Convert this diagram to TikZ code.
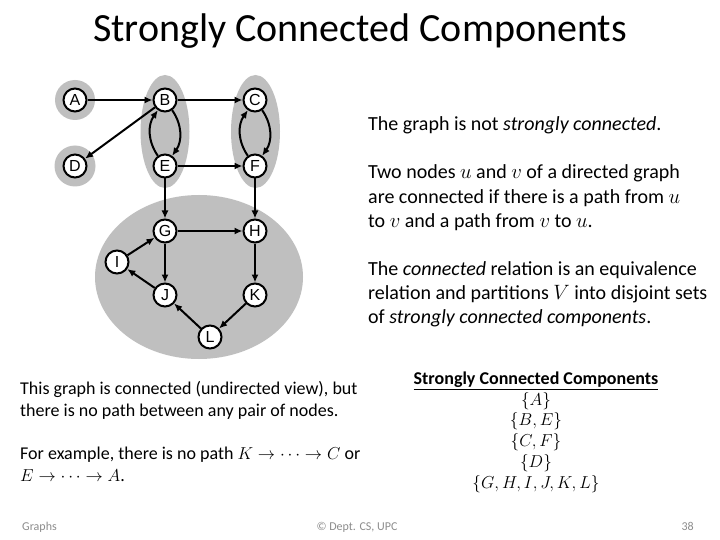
\documentclass[tikz,border=0pt]{standalone}
\usepackage{fontspec}
\setmainfont{Carlito}
\newfontfamily\vertexfont{Liberation Sans}
\usepackage{tikz}
\usetikzlibrary{arrows.meta,shapes.geometric}
\definecolor{sccGray}{HTML}{BFBFBF}
\definecolor{footGray}{HTML}{8C8C8C}

\begin{document}
\begin{tikzpicture}[x=1pt,y=-1pt,
  vtx/.style={circle,draw,line width=2pt,fill=white,inner sep=0pt,
              minimum size=23pt,font=\vertexfont\fontsize{16}{16}\selectfont},
  blob/.style={ellipse,fill=sccGray,inner sep=0pt},
  edge/.style={line width=2pt,-{Latex[length=8pt,width=7pt]}},
  body/.style={anchor=base west,align=left,inner sep=0pt,
               font=\fontsize{20}{24}\selectfont},
  side/.style={anchor=base west,align=left,inner sep=0pt,
               font=\fontsize{18}{22}\selectfont},
  foot/.style={anchor=base,inner sep=0pt,text=footGray,
               font=\fontsize{12}{12}\selectfont}]
  \useasboundingbox[fill=white] (0,0) rectangle (720,540);
  \node[anchor=base,inner sep=0pt,font=\fontsize{40}{48}\selectfont] (title)
    at (360,42) {Strongly Connected Components};

  \node[blob,minimum size=40pt] (sccA) at (75,100) {};
  \node[blob,minimum size=41pt] (sccD) at (75,166) {};
  \node[blob,minimum width=49pt,minimum height=113pt] (sccBE) at (165,131.5) {};
  \node[blob,minimum width=49pt,minimum height=113pt] (sccCF) at (255.5,131.5) {};
  \node[blob,minimum width=208pt,minimum height=164pt] (sccG) at (199,277) {};

  \node[vtx] (A) at (75,100) {A};
  \node[vtx] (B) at (165,100) {B};
  \node[vtx] (C) at (255,100) {C};
  \node[vtx] (D) at (75,166) {D};
  \node[vtx] (E) at (165,166) {E};
  \node[vtx] (F) at (255,166) {F};
  \node[vtx] (G) at (165,231) {G};
  \node[vtx] (H) at (255,231) {H};
  \node[vtx] (I) at (117,262) {I};
  \node[vtx] (J) at (165,295) {J};
  \node[vtx] (K) at (255,295) {K};
  \node[vtx] (L) at (210,337) {L};

  \foreach \s/\t in {A/B,B/C,B/D,E/F,E/G,F/H,G/H,G/J,I/G,J/I,H/K,K/L,L/J}
    \draw[edge] (\s) -- (\t);
  \draw[edge] (E) to[bend left=35] (B);
  \draw[edge] (B) to[bend left=35] (E);
  \draw[edge] (F) to[bend left=35] (C);
  \draw[edge] (C) to[bend left=35] (F);

  \node[body] (notsc) at (368,131) {The graph is not \textit{strongly connected}.};
  \node[body] (def) at (368,227) {Two nodes $u$ and $v$ of a directed graph\\
    are connected if there is a path from $u$\\to $v$ and a path from $v$ to $u$.};
  \node[body] (equiv) at (368,323) {The \textit{connected} relation is an equivalence\\
    relation and partitions $V$ into disjoint sets\\
    of \textit{strongly connected components}.};

  \node[side] (undir) at (20,416) {This graph is connected (undirected view), but\\
    there is no path between any pair of nodes.};
  \node[side] (nopath) at (20,481) {For example, there is no path
    $K\rightarrow\cdots\rightarrow C$ or\\$E\rightarrow\cdots\rightarrow A$.};

  \node[anchor=base,align=center,inner sep=0pt,font=\fontsize{18}{20.75}\selectfont]
    (list) at (536,488) {\textbf{\underline{Strongly Connected Components}}\\
    $\{A\}$\\$\{B,E\}$\\$\{C,F\}$\\$\{D\}$\\$\{G,H,I,J,K,L\}$};

  \node[foot,anchor=base west] (topic) at (22,530) {Graphs};
  \node[foot] (dept) at (357,530) {\textcopyright{} Dept. CS, UPC};
  \node[foot,anchor=base east] (page) at (694,530) {38};
\end{tikzpicture}
\end{document}
